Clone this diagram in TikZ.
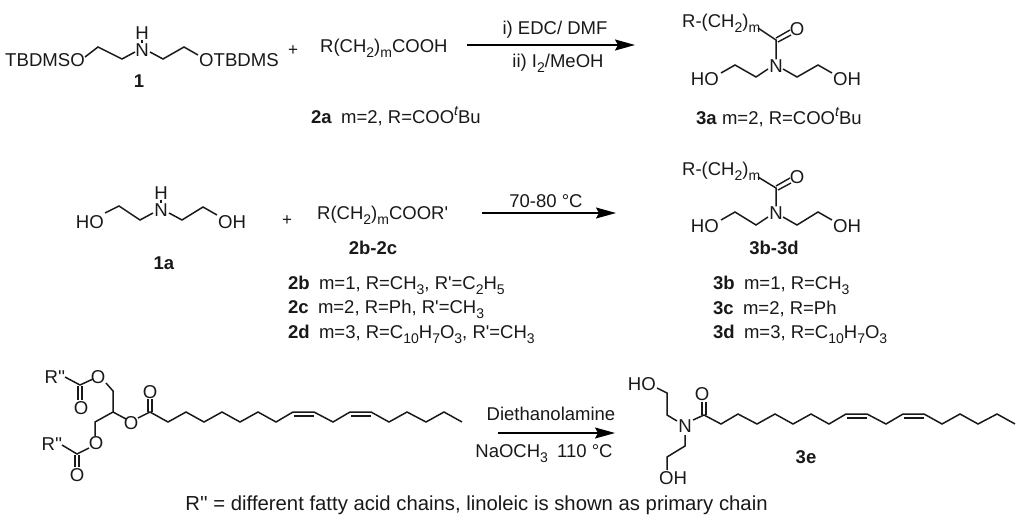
\documentclass[tikz,border=0pt]{standalone}
\usepackage{fontspec}
\usetikzlibrary{arrows.meta}
\newfontfamily\arialish{Liberation Sans}
\newcommand{\sub}[1]{\raisebox{-0.26em}{\fontsize{14}{15}\selectfont #1}}
\newcommand{\tbu}{\raisebox{0.42em}{\fontsize{14}{15}\selectfont\itshape t}Bu}
\newcommand{\gap}{\hspace{0.5em}}
\tikzset{
  txt/.style={inner sep=0pt,font=\arialish\fontsize{18.5}{20}\selectfont,text=black!90},
  atom/.style={inner sep=0pt,font=\arialish\fontsize{18.6}{20}\selectfont,text=black!90},
  lab/.style={inner sep=0pt,font=\arialish\fontsize{18.5}{20}\selectfont\bfseries,text=black!90},
  foot/.style={inner sep=0pt,font=\arialish\fontsize{20.3}{22}\selectfont,text=black!90},
  bond/.style={draw=black!90,line width=1.5pt,line join=miter},
  dbl/.style={draw=black!90,line width=1.4pt},
  rxn/.style={draw=black,line width=1.5pt,-{Stealth[length=20pt,width=11pt,inset=3pt]}},
  plus/.style={inner sep=0pt,font=\arialish\fontsize{17}{20}\selectfont,text=black!90}
}
\begin{document}
\begin{tikzpicture}[x=1pt,y=-1pt]
\useasboundingbox (0,0) rectangle (1024,524);
\fill[white] (0,0) rectangle (1024,524);

% Row 1 : compound 1
\node[atom,anchor=east] (t1l) at (85,60) {TBDMSO};
\node[atom] (t1n) at (142,50) {N};
\node[atom] (t1h) at (142,33) {H};
\node[atom,anchor=west] (t1r) at (199,60) {OTBDMS};
\node[lab] (l1) at (139,81) {1};
\node[plus] (p1) at (293,51) {+};
\draw[bond] (85,57) -- (98,47) -- (122,59) -- (135,52);
\draw[bond] (150,52) -- (163,59) -- (184,47) -- (198,55);
\draw[bond] (t1h.south) -- (t1n.north);

\node[txt,anchor=west] (r2a) at (320,48) {R(CH\sub{2})\sub{m}COOH};
\node[txt,anchor=west] (l2a) at (311,116) {\textbf{2a}\gap m=2, R=COO\tbu};
\coordinate (ar1s) at (467,45);
\coordinate (ar1e) at (635,45);
\draw[rxn] (ar1s) -- (ar1e);
\node[txt] (c1a) at (555,30) {i) EDC/ DMF};
\node[txt] (c1b) at (558,63) {ii) I\sub{2}/MeOH};

% 3a
\node[txt,anchor=west] (r3a) at (682,23) {R-(CH\sub{2})\sub{m}};
\node[atom] (o3a) at (797,29) {O};
\node[atom] (n3a) at (776,66) {N};
\node[atom,anchor=east] (h3a) at (719,79) {HO};
\node[atom,anchor=west] (h3b) at (833,79) {OH};
\node[txt,anchor=west] (l3a) at (696,117) {\textbf{3a} m=2, R=COO\tbu};
\coordinate (c3a) at (776,40);
\draw[bond] (758,28) -- (c3a) -- (n3a.north);
\draw[dbl] (776,38) -- (790,30) (778,42) -- (791,35);
\draw[bond] (768,69) -- (756,77) -- (735,65) -- (721,73);
\draw[bond] (783,69) -- (797,77) -- (818,65) -- (832,73);

% Row 2 : 1a
\node[atom,anchor=east] (h1a) at (104,222) {HO};
\node[atom] (n1a) at (161,210) {N};
\node[atom] (hh1a) at (161,193) {H};
\node[atom,anchor=west] (o1a) at (218,222) {OH};
\node[lab] (l1a) at (164,263) {1a};
\node[plus] (p2) at (287,221) {+};
\draw[bond] (105,213) -- (119,206) -- (140,220) -- (153,213);
\draw[bond] (169,213) -- (182,220) -- (203,207) -- (217,215);
\draw[bond] (hh1a.south) -- (n1a.north);

\node[txt,anchor=west] (r2b) at (317,215) {R(CH\sub{2})\sub{m}COOR'};
\node[lab] (l2b) at (373,248) {2b-2c};
\node[txt,anchor=west] (t2b) at (288,285) {\textbf{2b}\gap m=1, R=CH\sub{3}, R'=C\sub{2}H\sub{5}};
\node[txt,anchor=west] (t2c) at (288,309) {\textbf{2c}\gap m=2, R=Ph, R'=CH\sub{3}};
\node[txt,anchor=west] (t2d) at (288,334) {\textbf{2d}\gap m=3, R=C\sub{10}H\sub{7}O\sub{3}, R'=CH\sub{3}};
\coordinate (ar2s) at (482,213);
\coordinate (ar2e) at (616,213);
\draw[rxn] (ar2s) -- (ar2e);
\node[txt] (c2) at (546,201) {70-80 °C};

% 3b-3d
\node[txt,anchor=west] (r3b) at (682,171) {R-(CH\sub{2})\sub{m}};
\node[atom] (o3b) at (797,177) {O};
\node[atom] (n3b) at (776,213) {N};
\node[atom,anchor=east] (h3c) at (719,226) {HO};
\node[atom,anchor=west] (h3d) at (833,226) {OH};
\node[lab] (l3b) at (774,248) {3b-3d};
\coordinate (c3b) at (776,188);
\draw[bond] (758,177) -- (c3b) -- (n3b.north);
\draw[dbl] (776,186) -- (790,178) (778,190) -- (791,183);
\draw[bond] (768,217) -- (756,225) -- (735,212) -- (721,220);
\draw[bond] (783,217) -- (797,225) -- (818,212) -- (832,220);
\node[txt,anchor=west] (t3b) at (713,285) {\textbf{3b}\gap m=1, R=CH\sub{3}};
\node[txt,anchor=west] (t3c) at (713,309) {\textbf{3c}\gap m=2, R=Ph};
\node[txt,anchor=west] (t3d) at (713,334) {\textbf{3d}\gap m=3, R=C\sub{10}H\sub{7}O\sub{3}};

% Row 3 : triglyceride
\node[atom] (r1) at (55,377) {R''};
\node[atom] (o1) at (98,377) {O};
\node[atom] (o2) at (81,408) {O};
\node[atom] (o3) at (131,423) {O};
\node[atom] (o4) at (150,392) {O};
\node[atom] (o5) at (96,443) {O};
\node[atom] (r2) at (52,444) {R''};
\node[atom] (o6) at (77,475) {O};
\draw[bond] (65,377) -- (80,385) -- (93,379);
\draw[dbl] (78,386) -- (78,400) (82,386) -- (82,400);
\draw[bond] (106,383) -- (113,391) -- (113,412) -- (95,422) -- (95,436);
\draw[bond] (89,448) -- (77,454) -- (62,445);
\draw[dbl] (75,455) -- (75,467) (79,455) -- (79,467);
\draw[bond] (113,412) -- (126,419);
\draw[bond] (138,418) -- (150,412) -- (168,422) -- (186,412) -- (204,422) -- (222,412) -- (240,422) -- (258,412) -- (276,422) -- (293,412) -- (314,412) -- (333,422) -- (350,412) -- (371,412) -- (389,422) -- (407,412) -- (426,422) -- (444,412) -- (462,422);
\draw[dbl] (148,412) -- (148,399) (152,412) -- (152,399);
\draw[dbl] (294,416) -- (314,416) (351,416) -- (371,416);

\coordinate (ar3s) at (498,433);
\coordinate (ar3e) at (615,433);
\draw[rxn] (ar3s) -- (ar3e);
\node[txt] (c3a1) at (551,414) {Diethanolamine};
\node[txt] (c3b1) at (544,454) {NaOCH\sub{3}\gap 110 °C};

% 3e
\node[atom,anchor=east] (h3e) at (656,384) {HO};
\node[atom] (n3e) at (685,426) {N};
\node[atom] (o3e) at (702,394) {O};
\node[atom] (h3f) at (673,478) {OH};
\node[lab] (l3e) at (806,457) {3e};
\draw[bond] (657,388) -- (667,393) -- (667,415) -- (677,421);
\draw[bond] (685,435) -- (685,446) -- (667,457) -- (667,470);
\draw[bond] (693,420) -- (704,415) -- (721,424) -- (738,414) -- (757,424) -- (775,414) -- (793,424) -- (811,414) -- (829,424) -- (846,414) -- (867,414) -- (886,424) -- (903,414) -- (924,414) -- (942,424) -- (960,414) -- (978,424) -- (997,414) -- (1015,424);
\draw[dbl] (702,415) -- (702,402) (706,415) -- (706,402);
\draw[dbl] (847,418) -- (867,418) (904,418) -- (924,418);

\node[foot] (foot) at (476.5,505) {R'' = different fatty acid chains, linoleic is shown as primary chain};
\end{tikzpicture}
\end{document}
